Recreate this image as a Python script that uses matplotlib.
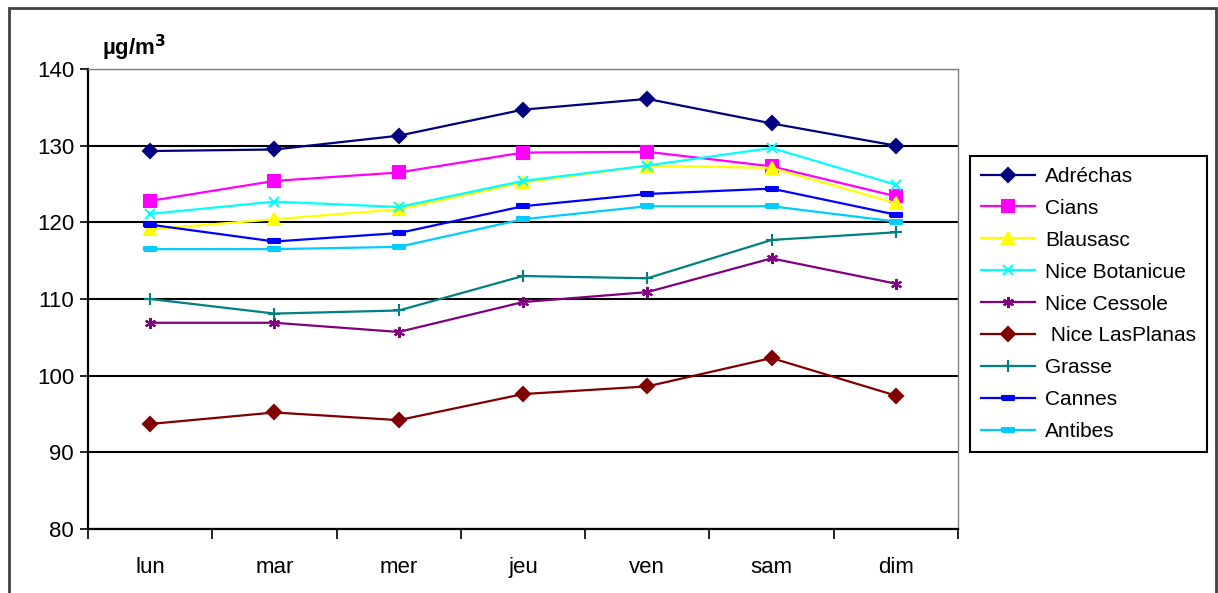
# weekly profile of concentrations per monitoring station
import matplotlib.pyplot as plt
from matplotlib.patches import Rectangle

plt.rcParams['font.family'] = ['Liberation Sans', 'DejaVu Sans']

jours = ['lun', 'mar', 'mer', 'jeu', 'ven', 'sam', 'dim']

adrechas = [129.3, 129.5, 131.3, 134.7, 136.1, 132.9, 130.0]
cians = [122.8, 125.4, 126.5, 129.1, 129.2, 127.3, 123.4]
blausasc = [119.1, 120.4, 121.7, 125.2, 127.4, 127.1, 122.5]
nice_botanicue = [121.1, 122.7, 122.0, 125.4, 127.4, 129.7, 124.9]
nice_cessole = [106.9, 106.9, 105.7, 109.6, 110.9, 115.3, 112.0]
nice_lasplanas = [93.7, 95.2, 94.2, 97.6, 98.6, 102.3, 97.4]
grasse = [110.0, 108.1, 108.5, 113.0, 112.7, 117.7, 118.7]
cannes = [119.7, 117.5, 118.6, 122.1, 123.7, 124.4, 121.0]
antibes = [116.5, 116.5, 116.8, 120.4, 122.1, 122.1, 120.1]

# flat bar marker used for the last two series
bar = [(-1, -0.3), (1, -0.3), (1, 0.3), (-1, 0.3), (-1, -0.3)]

series = [
    ('Adréchas', adrechas, '#000080', 'D', 7),
    ('Cians', cians, '#FF00FF', 's', 8),
    ('Blausasc', blausasc, '#FFFF00', '^', 9),
    ('Nice Botanicue', nice_botanicue, '#00FFFF', 'x', 7),
    ('Nice Cessole', nice_cessole, '#800080', (6, 2, 0), 8),
    (' Nice LasPlanas', nice_lasplanas, '#800000', 'D', 7),
    ('Grasse', grasse, '#008080', '+', 9),
    ('Cannes', cannes, '#0000FF', bar, 8),
    ('Antibes', antibes, '#00CCFF', bar, 8),
]

fig = plt.figure(figsize=(12.18, 5.93), dpi=100)
ax = fig.add_axes([88 / 1218, 1 - 529 / 593, 870 / 1218, 460 / 593])

x = list(range(len(jours)))
for nom, vals, col, mk, ms in series:
    ax.plot(x, vals, color=col, lw=1.6, marker=mk, markersize=ms,
            markerfacecolor=col, markeredgecolor=col, markeredgewidth=1.5,
            label=nom, zorder=3)

ax.set_xlim(-0.5, 6.5)
ax.set_ylim(80, 140)
ax.set_yticks(range(80, 141, 10))
ax.yaxis.grid(True, color='black', lw=1.5)
ax.set_axisbelow(True)

ax.set_xticks(x)
ax.set_xticklabels(jours)
ax.set_xticks([i - 0.5 for i in range(8)], minor=True)
ax.tick_params(axis='x', which='major', length=0, pad=20, labelsize=16)
ax.tick_params(axis='x', which='minor', length=7, width=1.2, direction='out')
ax.tick_params(axis='y', length=6, width=1.2, pad=4, labelsize=16)

for s in ['left', 'bottom']:
    ax.spines[s].set_linewidth(1.6)
for s in ['top', 'right']:
    ax.spines[s].set_color('#808080')
    ax.spines[s].set_linestyle((0, (1, 1)))
    ax.spines[s].set_linewidth(1.0)

fig.text(102 / 1218, 1 - 48 / 593, 'µg/m$^{\\mathbf{3}}$', fontsize=16,
         fontweight='bold', va='center', ha='left')

leg = fig.legend(loc='upper left', bbox_to_anchor=(960 / 1218, 1 - 146 / 593),
                 fancybox=False, edgecolor='black', framealpha=1,
                 fontsize=15, handlelength=2.6, handletextpad=0.5,
                 labelspacing=0.62, borderpad=0.5)
leg.get_frame().set_linewidth(1.5)

# outer chart frame
fig.patches.append(Rectangle((9 / 1218, -0.1), 1207 / 1218, 1.1 - 8 / 593,
                             transform=fig.transFigure, fill=False,
                             edgecolor='#404040', lw=2))

fig.savefig('out.png', dpi=100)
